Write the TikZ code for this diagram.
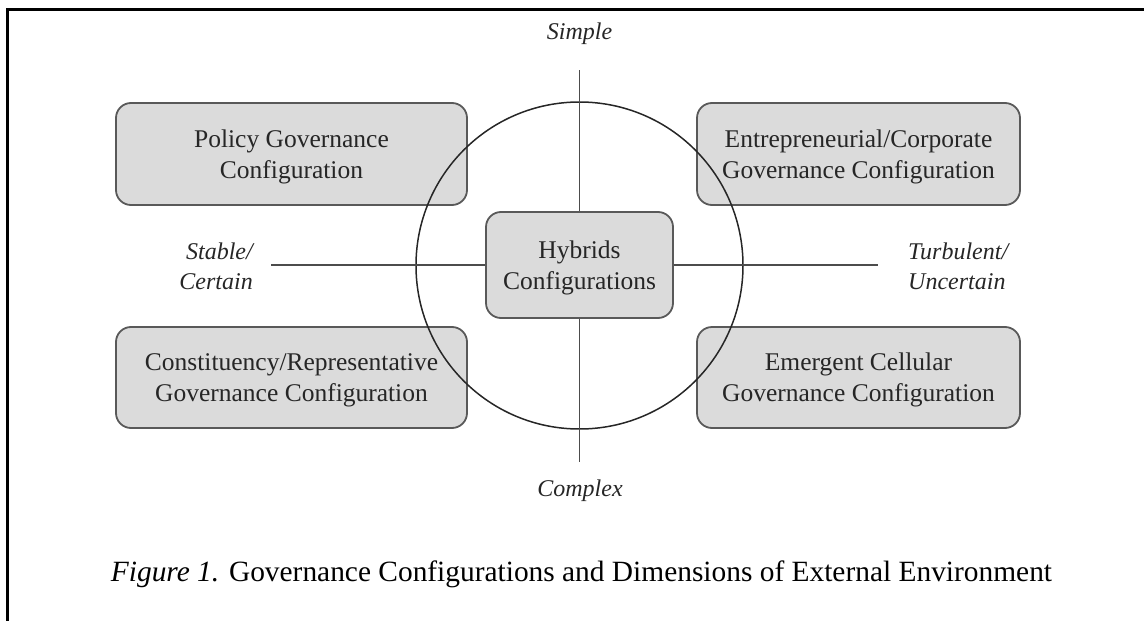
\documentclass[tikz,border=0pt]{standalone}
\usepackage{fontspec}
\setmainfont{Liberation Serif}
\begin{document}
\begin{tikzpicture}[x=1pt,y=-1pt,
  gbox/.style={draw=black!65, line width=1.8pt, fill=black!14, rounded corners=15pt,
    align=center, text=black!85, font=\fontsize{25.5}{31}\selectfont, inner sep=0pt, text depth=0pt},
  axis/.style={draw=black!70, line width=1.5pt},
  lab/.style={text=black!85, font=\fontsize{24}{30}\selectfont\itshape, inner sep=0pt}]
\useasboundingbox (0,0) rectangle (1144,621);
% frame
\draw[line width=3pt] (7,621) -- (7,9) -- (1144,9);
% boxes
\node[gbox, minimum width=351pt, minimum height=102pt] (pol) at (291.5,154) {Policy Governance\\Configuration};
\node[gbox, minimum width=323pt, minimum height=102pt] (ent) at (858.5,154) {Entrepreneurial/Corporate\\Governance Configuration};
\node[gbox, minimum width=351pt, minimum height=101pt] (con) at (291.5,377.5) {Constituency/Representative\\Governance Configuration};
\node[gbox, minimum width=323pt, minimum height=101pt] (eme) at (858.5,377.5) {Emergent Cellular\\Governance Configuration};
\node[gbox, minimum width=187pt, minimum height=106pt] (hyb) at (579.5,265) {Hybrids\\Configurations};
% circle
\node[draw=black!85, line width=1.5pt, circle, minimum size=327pt, inner sep=0pt] (circ) at (579.5,265.5) {};
% axes
\coordinate (top) at (579.5,70);
\coordinate (bot) at (579.5,462);
\coordinate (lft) at (271,265);
\coordinate (rgt) at (878,265);
\draw[axis] (top) -- (hyb.north);
\draw[axis] (hyb.south) -- (bot);
\draw[axis] (lft) -- (hyb.west);
\draw[axis] (hyb.east) -- (rgt);
% labels
\node[lab] (simple) at (579.5,34) {Simple};
\node[lab] (complex) at (580,491) {Complex};
\node[lab, align=right, anchor=east] (stable) at (253,266) {Stable/\\Certain};
\node[lab, align=left, anchor=west] (turb) at (908,266) {Turbulent/\\Uncertain};
% caption
\node[font=\fontsize{29.4}{36}\selectfont, inner sep=0pt] (cap) at (581.5,574) {\textit{Figure 1.} Governance Configurations and Dimensions of External Environment};
\end{tikzpicture}
\end{document}
